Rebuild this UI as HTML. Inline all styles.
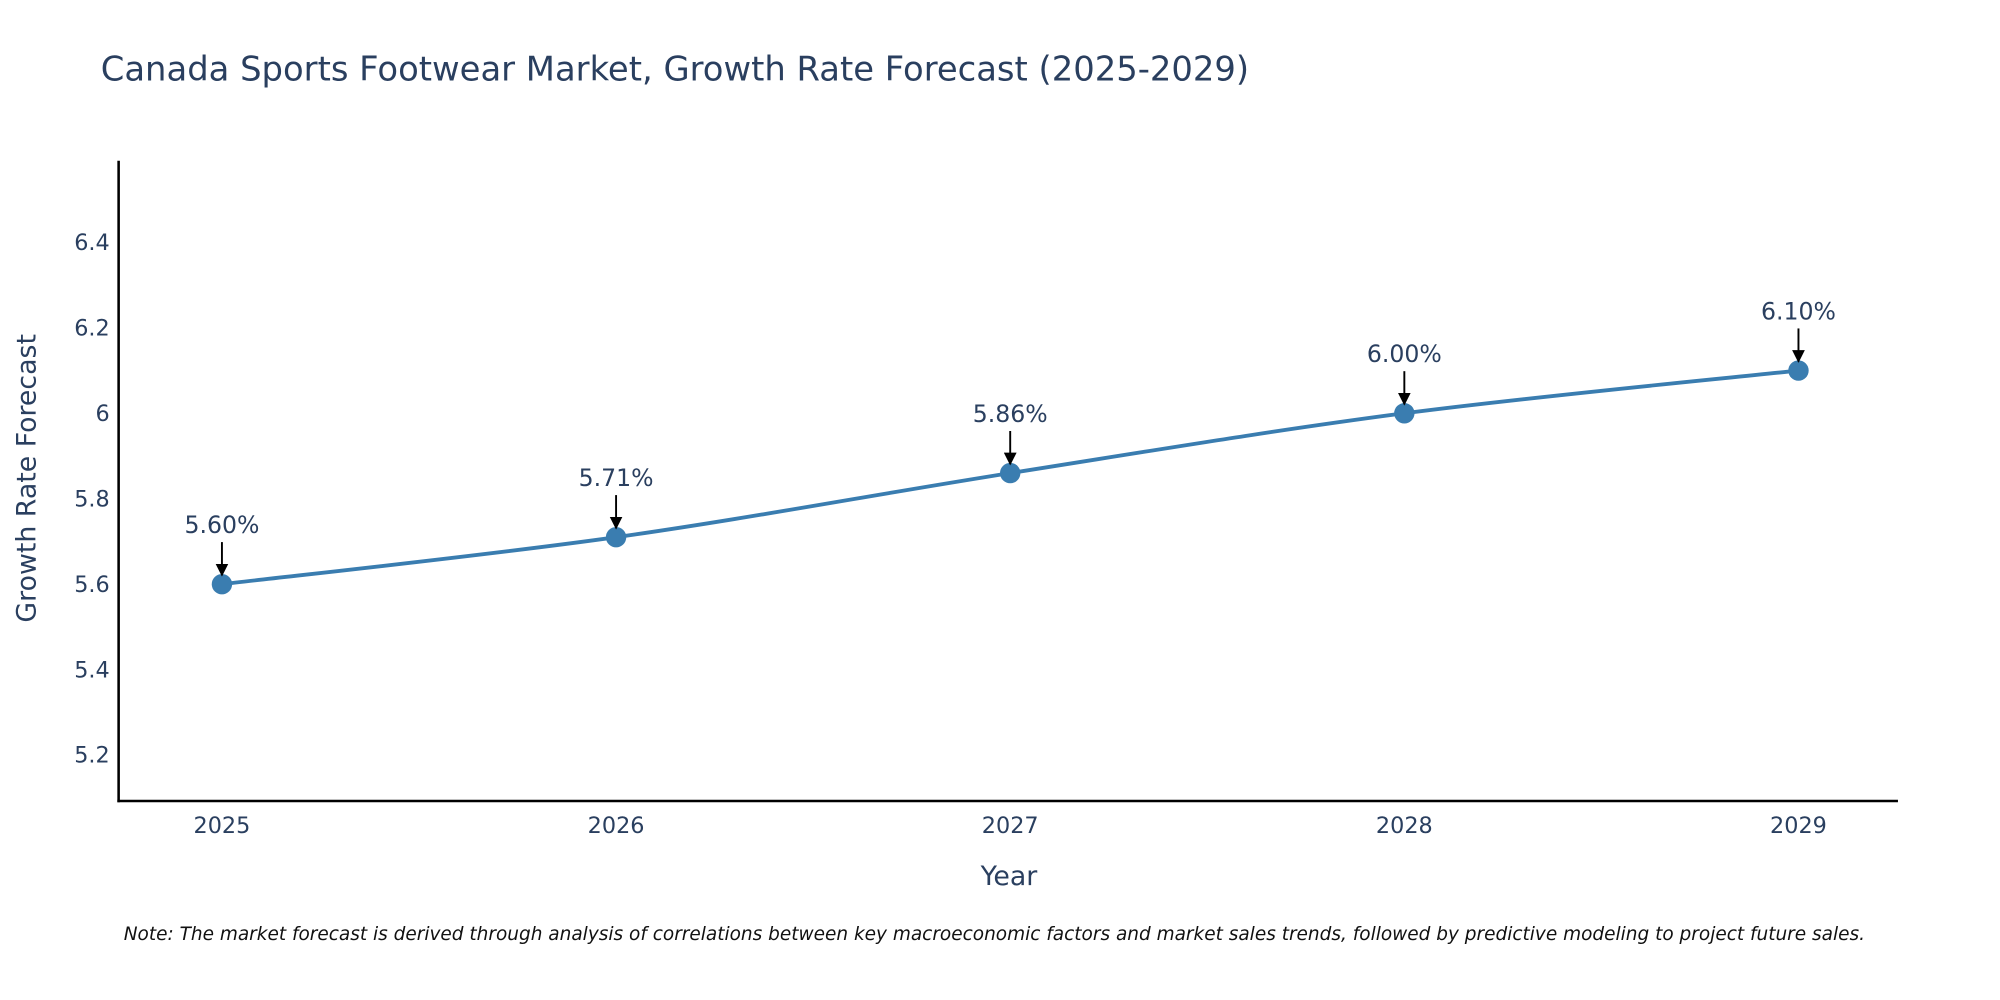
<!DOCTYPE html>
<html><head><meta charset="utf-8">
<style>
html,body{margin:0;padding:0;background:#fff;}
svg{display:block;font-family:"DejaVu Sans","Liberation Sans",sans-serif;}
</style></head>
<body>
<svg id="chart" width="2000" height="1000" viewBox="0 0 1568 784" xmlns="http://www.w3.org/2000/svg">
<defs>
<marker id="arr" markerWidth="10" markerHeight="10" refX="9" refY="5" orient="auto" markerUnits="userSpaceOnUse"><path d="M0,0 L10,5 L0,10 Z" fill="#000"/></marker>
</defs>
<text x="79" y="63" font-size="26.5" fill="#2a3f5f">Canada Sports Footwear Market, Growth Rate Forecast (2025-2029)</text>
<g id="plot"></g>
<line x1="93" y1="126" x2="93" y2="629" stroke="#000" stroke-width="2"/>
<line x1="92" y1="628" x2="1488" y2="628" stroke="#000" stroke-width="2"/>
<text x="791" y="694" font-size="21" fill="#2a3f5f" text-anchor="middle">Year</text>
<text transform="translate(28,375) rotate(-90)" font-size="21" fill="#2a3f5f" text-anchor="middle">Growth Rate Forecast</text>
<text x="97" y="737" font-size="14.5" font-style="italic" fill="#111">Note: The market forecast is derived through analysis of correlations between key macroeconomic factors and market sales trends, followed by predictive modeling to project future sales.</text>
</svg>
<script>
const years = [2025, 2026, 2027, 2028, 2029];
const growthValues = [5.60, 5.71, 5.86, 6.00, 6.10];
const valueLabels = ["5.60%", "5.71%", "5.86%", "6.00%", "6.10%"];
const yTicks = [5.2, 5.4, 5.6, 5.8, 6, 6.2, 6.4];
const yTickLabels = ["5.2", "5.4", "5.6", "5.8", "6", "6.2", "6.4"];

const NS = "http://www.w3.org/2000/svg";
const svg = document.getElementById('chart');
const plot = document.getElementById('plot');
const xPos = v => 174 + (v - years[0]) * 309;
const yPos = v => 324 - (v - 6) * 335;
function mk(tag, attrs){const e=document.createElementNS(NS,tag);for(const k in attrs)e.setAttribute(k,attrs[k]);return e;}

yTicks.forEach((t,i)=>{
  const e=mk('text',{x:86,y:yPos(t)+6,'font-size':17.5,fill:'#2a3f5f','text-anchor':'end'});
  
  
  e.textContent=yTickLabels[i];svg.appendChild(e);
});
years.forEach(y=>{
  const e=mk('text',{x:xPos(y),y:653,'font-size':17.5,fill:'#2a3f5f','text-anchor':'middle'});
  
  
  e.textContent=String(y);svg.appendChild(e);
});

const pts = years.map((y,i)=>[xPos(y), yPos(growthValues[i])]);
let d = `M${pts[0][0]},${pts[0][1]}`;
for(let i=0;i<pts.length-1;i++){
  const p0=pts[Math.max(0,i-1)],p1=pts[i],p2=pts[i+1],p3=pts[Math.min(pts.length-1,i+2)];
  const c1=[p1[0]+(p2[0]-p0[0])/6,p1[1]+(p2[1]-p0[1])/6];
  const c2=[p2[0]-(p3[0]-p1[0])/6,p2[1]-(p3[1]-p1[1])/6];
  d+=` C${c1[0]},${c1[1]} ${c2[0]},${c2[1]} ${p2[0]},${p2[1]}`;
}
const line=mk('path',{d:d,fill:'none',stroke:'#3a7db0','stroke-width':3});


plot.appendChild(line);

pts.forEach((p,i)=>{
  const c=mk('circle',{cx:p[0],cy:p[1],r:8,fill:'#3a7db0'});
  
  
  plot.appendChild(c);
  const a=mk('line',{x1:p[0],y1:p[1]-33,x2:p[0],y2:p[1]-7,stroke:'#000','stroke-width':1.5,'marker-end':'url(#arr)'});
  
  
  plot.appendChild(a);
  const t=mk('text',{x:p[0],y:p[1]-40,'font-size':18.5,fill:'#2a3f5f','text-anchor':'middle'});
  
  
  t.textContent=valueLabels[i];plot.appendChild(t);
});
</script>
</body></html>
